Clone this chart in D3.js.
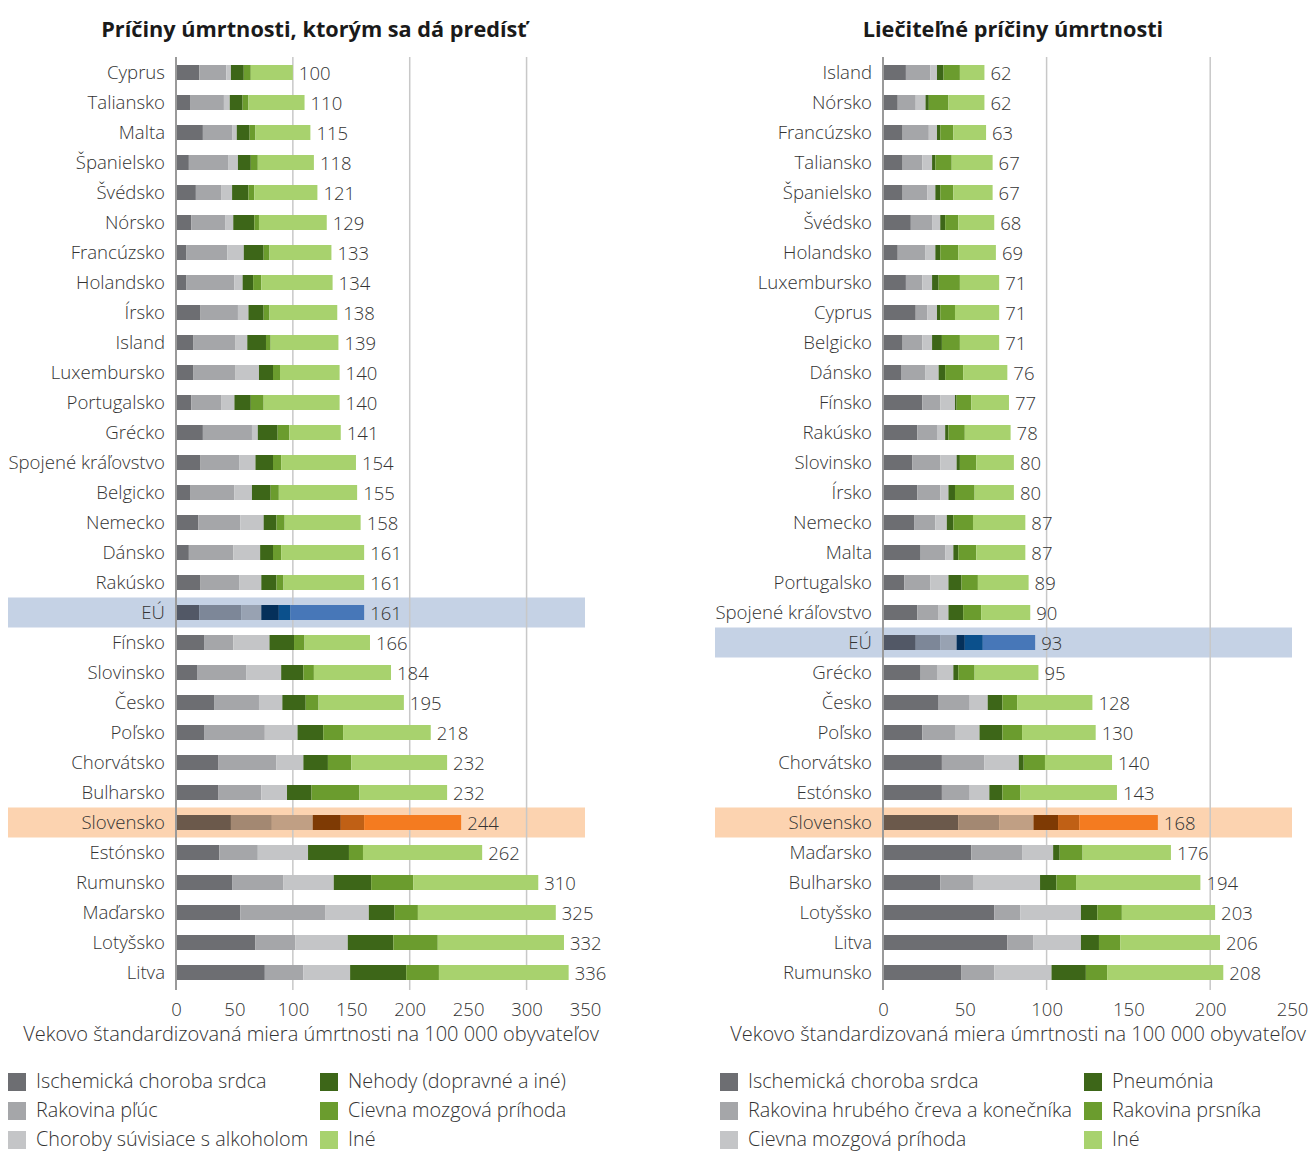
<!DOCTYPE html>
<html><head><meta charset="utf-8">
<script src="https://cdn.jsdelivr.net/npm/d3@7"></script>
<style>
body{margin:0;background:#fff;}
text{font-family:"Open Sans","Noto Sans",sans-serif;}
</style></head>
<body><svg id="c" width="1310" height="1151"></svg>
<script>
// ---------- LEFT PANEL DATA ----------
const leftCountries = ["Cyprus","Taliansko","Malta","Španielsko","Švédsko","Nórsko","Francúzsko","Holandsko","Írsko","Island","Luxembursko","Portugalsko","Grécko","Spojené kráľovstvo","Belgicko","Nemecko","Dánsko","Rakúsko","EÚ","Fínsko","Slovinsko","Česko","Poľsko","Chorvátsko","Bulharsko","Slovensko","Estónsko","Rumunsko","Maďarsko","Lotyšsko","Litva"];
const leftIschemic  = [20,12,23,11,17,13,9,9,21,15,15,13,23,21,12,19,11,21,20,24,18,33,24,36,36,47,37,48,55,68,76];
const leftLung      = [23,29,25,34,22,29,35,41,32,36,36,26,42,33,38,36,38,33,36,25,42,38,52,50,37,35,33,44,73,34,33];
const leftAlcohol   = [4,5,4,8,9,7,14,7,9,10,20,11,5,14,15,20,23,19,17,31,30,20,28,23,22,35,43,43,37,45,40];
const leftAccidents = [11,11,11,11,14,18,17,9,13,16,12,14,17,15,16,11,11,13,15,21,19,20,22,21,21,24,35,32,22,39,48];
const leftStroke    = [6,5,5,6,5,4,5,7,5,4,6,11,10,7,7,7,7,6,10,9,9,11,17,20,41,20,12,36,20,38,28];
const leftOther     = [36,48,47,48,54,58,53,61,58,58,51,65,44,64,67,65,71,69,63,56,66,73,75,82,75,83,102,107,118,108,111];
const leftTotals    = [100,110,115,118,121,129,133,134,138,139,140,140,141,154,155,158,161,161,161,166,184,195,218,232,232,244,262,310,325,332,336];
const leftSeriesNames = ["Ischemická choroba srdca","Rakovina pľúc","Choroby súvisiace s alkoholom","Nehody (dopravné a iné)","Cievna mozgová príhoda","Iné"];
const leftTicks = [0,50,100,150,200,250,300,350];
const leftGrid = [100,200,300];

// ---------- RIGHT PANEL DATA ----------
const rightCountries = ["Island","Nórsko","Francúzsko","Taliansko","Španielsko","Švédsko","Holandsko","Luxembursko","Cyprus","Belgicko","Dánsko","Fínsko","Rakúsko","Slovinsko","Írsko","Nemecko","Malta","Portugalsko","Spojené kráľovstvo","EÚ","Grécko","Česko","Poľsko","Chorvátsko","Estónsko","Slovensko","Maďarsko","Bulharsko","Lotyšsko","Litva","Rumunsko"];
const rightIschemic  = [14,9,12,12,12,17,9,14,20,12,11,24,21,18,21,19,23,13,21,20,23,34,24,36,36,46,54,35,68,76,48];
const rightColorectal= [15,11,16,12,15,13,17,10,7,12,15,11,12,17,14,13,15,16,13,15,10,19,20,26,17,25,31,20,16,16,20];
const rightStroke    = [4,6,5,6,5,5,6,6,6,6,8,9,5,10,5,7,5,11,6,10,10,11,15,21,12,21,19,41,37,29,35];
const rightPneumonia = [4,2,2,2,3,3,3,4,2,6,4,1,2,2,4,4,3,8,9,5,3,9,14,3,8,15,4,10,10,11,21];
const rightBreast    = [10,12,8,10,8,8,11,13,9,11,11,9,10,10,12,12,11,10,11,11,10,9,12,13,11,13,14,12,15,13,13];
const rightOther     = [15,22,20,25,24,22,23,24,27,24,27,23,28,23,24,32,30,31,30,32,39,46,45,41,59,48,54,76,57,61,71];
const rightTotals    = [62,62,63,67,67,68,69,71,71,71,76,77,78,80,80,87,87,89,90,93,95,128,130,140,143,168,176,194,203,206,208];
const rightSeriesNames = ["Ischemická choroba srdca","Rakovina hrubého čreva a konečníka","Cievna mozgová príhoda","Pneumónia","Rakovina prsníka","Iné"];
const rightTicks = [0,50,100,150,200,250];
const rightGrid = [100,200];

const titles = ["Príčiny úmrtnosti, ktorým sa dá predísť","Liečiteľné príčiny úmrtnosti"];
const axisTitle = "Vekovo štandardizovaná miera úmrtnosti na 100 000 obyvateľov";

// ---------- STYLES ----------
const baseColors = ["#6d6e72","#a5a6a9","#c4c5c7","#3d6618","#6b9c2e","#a8d26e"];
const euColors   = ["#525866","#7d8798","#98a2b2","#05305a","#0b508c","#4777b8"];
const skColors   = ["#6b594b","#a38872","#c09f84","#7e3a04","#c06015","#f47b20"];
const euBand = "#c5d2e5", skBand = "#fcd3b0";

const svg = d3.select("#c");

function panel(cfg){
  const g = svg.append("g");
  const x = d3.scaleLinear().domain(cfg.domain).range([cfg.x0, cfg.x1]);
  const y = d3.scaleBand().domain(cfg.countries).range([57.5, 987.5]).paddingInner(0.5).paddingOuter(0.25);
  const rowY = d => y(d) - y.step()*y.paddingInner()/2;
  cfg.countries.forEach(c=>{
    if(c==="EÚ"||c==="Slovensko"){
      g.append("rect").attr("x",cfg.bandX0).attr("y",rowY(c)).attr("width",cfg.x1-cfg.bandX0)
       .attr("height",y.step()).attr("fill",c==="EÚ"?euBand:skBand);
    }
  });
  g.selectAll(".grid").data(cfg.grid).join("line")
    .attr("x1",d=>x(d)).attr("x2",d=>x(d)).attr("y1",57).attr("y2",990)
    .attr("stroke","#c8c8c8").attr("stroke-width",1.5);
  const rows = cfg.countries.map((c,i)=>{
    const vals = cfg.series.map(s=>s[i]);
    let acc=0; const segs = vals.map((v,k)=>{const s={c,k,x0:acc,x1:acc+v}; acc+=v; return s;});
    return {c,segs,total:cfg.totals[i]};
  });
  rows.forEach(r=>{
    const pal = r.c==="EÚ"?euColors:(r.c==="Slovensko"?skColors:baseColors);
    g.selectAll(null).data(r.segs).join("rect")
      .attr("x",d=>x(d.x0)).attr("width",d=>x(d.x1)-x(d.x0))
      .attr("y",y(r.c)).attr("height",y.bandwidth())
      .attr("fill",d=>pal[d.k]);
    g.append("text").attr("x",x(r.segs[5].x1)+6).attr("y",y(r.c)+y.bandwidth()/2+2.5)
      .attr("dominant-baseline","middle").attr("font-size",18.5).attr("fill","#333").attr("font-weight",300)
      .text(r.total);
    g.append("text").attr("x",cfg.x0-11).attr("y",y(r.c)+y.bandwidth()/2+2)
      .attr("dominant-baseline","middle").attr("text-anchor","end").attr("font-size",18.6).attr("fill","#333").attr("font-weight",300)
      .text(r.c);
  });
  g.append("line").attr("x1",cfg.x0).attr("x2",cfg.x0).attr("y1",57).attr("y2",990)
    .attr("stroke","#9a9a9a").attr("stroke-width",2);
  const ax = d3.axisBottom(x).tickValues(cfg.ticks).tickSize(0).tickPadding(0);
  const axg = g.append("g").attr("transform","translate(0,1010)").call(ax);
  axg.select(".domain").remove();
  axg.selectAll("text").attr("font-size",18.5).attr("fill","#333").attr("font-weight",300)
    .attr("font-family","'Open Sans','Noto Sans',sans-serif").attr("dy",null).attr("y",1)
    .attr("dominant-baseline","middle");
  g.append("text").attr("x",cfg.axisTitleX).attr("y",1036).attr("text-anchor","middle")
    .attr("dominant-baseline","middle").attr("font-size",20).attr("fill","#333").attr("font-weight",300).text(axisTitle);
  g.append("text").attr("x",cfg.titleX).attr("y",31).attr("text-anchor","middle")
    .attr("dominant-baseline","middle").attr("font-size",21.7).attr("font-weight",700).attr("fill","#1a1a1a").text(cfg.title);
  const order=[0,3,1,4,2,5];
  order.forEach((k,j)=>{
    const col = j%2, row = Math.floor(j/2);
    const lx = col===0?cfg.legX0:cfg.legX1;
    const ly = 1082 + row*29;
    g.append("rect").attr("x",lx).attr("y",ly-9).attr("width",18).attr("height",18).attr("fill",baseColors[k]);
    g.append("text").attr("x",lx+28).attr("y",ly+1).attr("dominant-baseline","middle").attr("font-size",19.8)
      .attr("fill","#333").attr("font-weight",300).text(cfg.names[k]);
  });
}

panel({countries:leftCountries, series:[leftIschemic,leftLung,leftAlcohol,leftAccidents,leftStroke,leftOther],
  totals:leftTotals, domain:[0,350], x0:176, x1:585, bandX0:8, grid:leftGrid, ticks:leftTicks,
  axisTitleX:311, titleX:314, title:titles[0], legX0:8, legX1:320, names:leftSeriesNames});
panel({countries:rightCountries, series:[rightIschemic,rightColorectal,rightStroke,rightPneumonia,rightBreast,rightOther],
  totals:rightTotals, domain:[0,250], x0:883, x1:1292, bandX0:715, grid:rightGrid, ticks:rightTicks,
  axisTitleX:1018, titleX:1013, title:titles[1], legX0:720, legX1:1084, names:rightSeriesNames});
</script></body></html>
